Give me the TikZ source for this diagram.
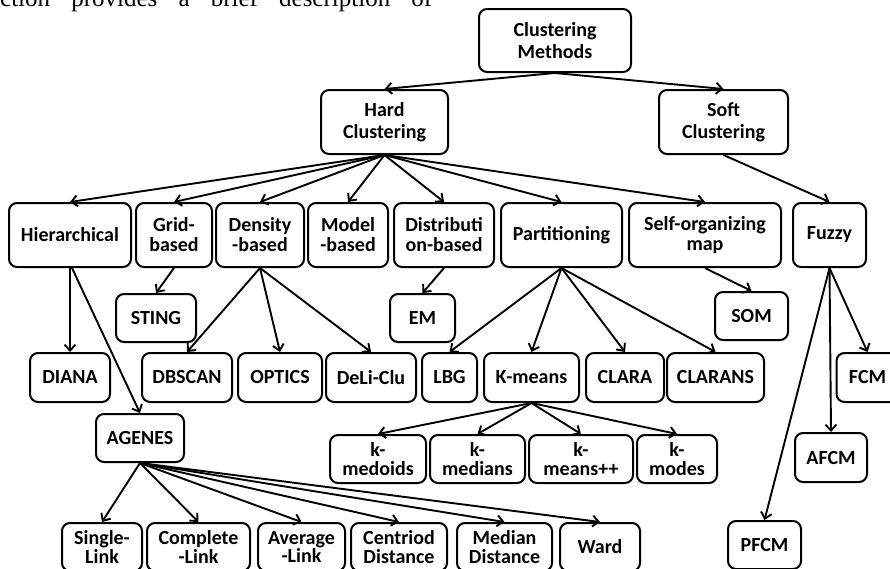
\documentclass[tikz,border=0pt]{standalone}
\usepackage{fontspec}
\setsansfont{Carlito}
\newfontfamily\paperfont{Liberation Serif}
\usetikzlibrary{arrows.meta}
\begin{document}
\begin{tikzpicture}[x=1pt,y=-1pt,
  box/.style={draw, line width=2pt, rounded corners=8pt, align=center, inner sep=1pt,
    font=\sffamily\bfseries\fontsize{20}{22}\selectfont},
  midlead/.style={font=\sffamily\bfseries\fontsize{20}{20}\selectfont},
  tightlead/.style={font=\sffamily\bfseries\fontsize{20}{18.5}\selectfont},
  arr/.style={line width=1.9pt, -{Straight Barb[length=6pt,width=11pt]}},
  bx/.style n args={2}{minimum width=#1, minimum height=#2}
]
\useasboundingbox (0,0) rectangle (890,568);
\node[anchor=base west, inner sep=0pt, font=\paperfont\fontsize{25}{28}\selectfont] (para) at (0,6)
  {\hbox to 432pt{ction\hfill provides\hfill a\hfill brief\hfill description\hfill of}};

% level 0-1
\node[box, bx={152}{63}] (cm) at (555,40.5) {Clustering\\Methods};
\node[box, bx={127}{64}] (hard) at (384.5,122) {Hard\\Clustering};
\node[box, bx={129}{64}] (soft) at (723.5,122) {Soft\\Clustering};

% level 2
\node[box, bx={122}{64}] (hier) at (70,235) {Hierarchical};
\node[box, midlead, bx={76}{64}] (grid) at (174,235) {Grid-\\based};
\node[box, midlead, bx={88}{64}] (dens) at (260,235) {Density\\-based};
\node[box, midlead, bx={80}{64}] (model) at (348,235) {Model\\-based};
\node[box, midlead, bx={100}{64}] (distr) at (444,235) {Distributi\\on-based};
\node[box, bx={121}{64}] (part) at (561.5,235) {Partitioning};
\node[box, midlead, bx={152}{64}] (selforg) at (705,235) {Self-organizing\\map};
\node[box, bx={73}{64}] (fuzzy) at (829.5,235) {Fuzzy};

% level 3
\node[box, bx={80}{48}] (sting) at (156,318) {STING};
\node[box, bx={65}{48}] (em) at (422.5,318) {EM};
\node[box, bx={73}{48}] (som) at (751.5,316) {SOM};

% level 4
\node[box, bx={80}{49}] (diana) at (70,377.5) {DIANA};
\node[box, bx={90}{49}] (dbscan) at (187,377.5) {DBSCAN};
\node[box, bx={84}{49}] (optics) at (280,377.5) {OPTICS};
\node[box, bx={90}{49}] (deli) at (371,377.5) {DeLi-Clu};
\node[box, bx={55}{49}] (lbg) at (449.5,377.5) {LBG};
\node[box, bx={95}{49}] (kmeans) at (531.5,377.5) {K-means};
\node[box, bx={78}{49}] (clara) at (625,377.5) {CLARA};
\node[box, bx={97}{49}] (clarans) at (715.5,377.5) {CLARANS};
\node[box, bx={62}{49}] (fcm) at (867.5,377.5) {FCM};

% level 5
\node[box, bx={88}{48}] (agenes) at (140,438) {AGENES};
\node[box, tightlead, bx={96}{48}] (kmed) at (378,459) {k-\\medoids};
\node[box, tightlead, bx={95}{48}] (kmedian) at (477.5,459) {k-\\medians};
\node[box, tightlead, bx={104}{48}] (kmpp) at (581,459) {k-\\means++};
\node[box, tightlead, bx={80}{48}] (kmodes) at (677,459) {k-\\modes};
\node[box, bx={72}{49}] (afcm) at (831,457.5) {AFCM};

% level 6
\node[box, tightlead, bx={80}{48}] (single) at (102,547) {Single-\\Link};
\node[box, tightlead, bx={103}{48}] (complete) at (198.5,547) {Complete\\-Link};
\node[box, tightlead, bx={87}{48}] (average) at (301.5,547) {Average\\-Link};
\node[box, tightlead, bx={96}{48}] (centriod) at (399,547) {Centriod\\Distance};
\node[box, tightlead, bx={95}{48}] (median) at (504.5,547) {Median\\Distance};
\node[box, bx={80}{48}] (ward) at (600,547) {Ward};
\node[box, bx={73}{48}] (pfcm) at (764.5,545) {PFCM};

% connectors
\draw[arr] (cm.south) -- (hard.north);
\draw[arr] (cm.south) -- (soft.north);
\foreach \t in {hier,grid,dens,model,distr,part,selforg}
  \draw[arr] (hard.south) -- (\t.north);
\draw[arr] (soft.south) -- (fuzzy.north);
\draw[arr] (hier.south) -- (diana.north);
\draw[arr] ([xshift=2pt]hier.south) -- (agenes.north);
\draw[arr] (grid.south) -- (sting.north);
\foreach \t in {dbscan,optics,deli}
  \draw[arr] (dens.south) -- (\t.north);
\draw[arr] (distr.south) -- (em.north);
\foreach \t in {lbg,kmeans,clara,clarans}
  \draw[arr] (part.south) -- (\t.north);
\draw[arr] (selforg.south) -- (som.north);
\foreach \t in {pfcm,afcm,fcm}
  \draw[arr] (fuzzy.south) -- (\t.north);
\foreach \t in {kmed,kmedian,kmpp,kmodes}
  \draw[arr] (kmeans.south) -- (\t.north);
\foreach \t in {single,complete,average,centriod,median,ward}
  \draw[arr] (agenes.south) -- (\t.north);
\end{tikzpicture}
\end{document}
